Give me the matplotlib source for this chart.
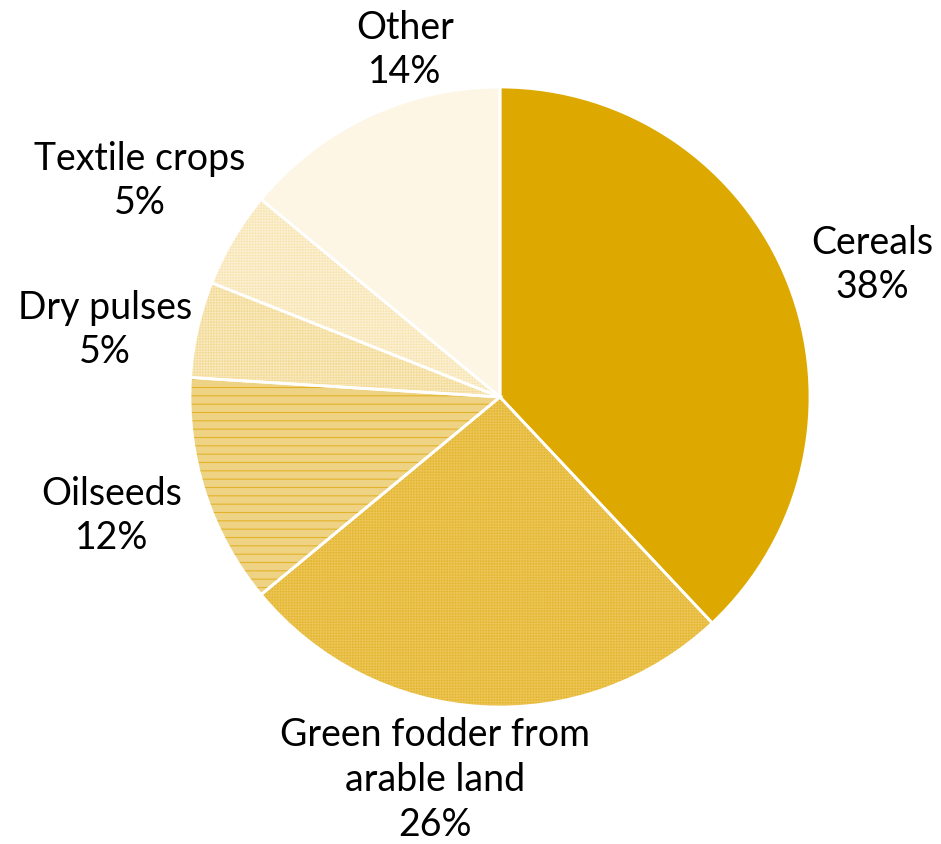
import matplotlib.pyplot as plt
import numpy as np

plt.rcParams['font.family'] = ['Lato', 'DejaVu Sans']

categories = ["Cereals", "Green fodder from\narable land", "Oilseeds",
              "Dry pulses", "Textile crops", "Other"]
shares = [38, 26, 12, 5, 5, 14]

face_colors = ["#DDA900", "#E3B52E", "#EFD384", "#F2D78E", "#F6E3AC", "#FDF6E5"]
hatch_colors = ["#DDA900", "#EBC453", "#E2B22A", "#F8E7B8", "#FBEFCF", "#F8E6B4"]
hatches = [None, "++++++", "--", "++++++", "++++++", None]

# label block centres in pixels (x, y from top)
label_pos = [(872, 265), (435, 780), (112, 516), (105, 330), (140, 181), (405, 50)]

W, H = 941, 844
fig = plt.figure(figsize=(W / 100, H / 100), dpi=100)
ax = fig.add_axes([0, 0, 1, 1])

center = (500, H - 397)
radius = 310
plt.rcParams['hatch.linewidth'] = 0.8

wedges, _ = ax.pie(shares, center=center, radius=radius, startangle=90,
                   counterclock=False, frame=True)
for w, fc, hc, h in zip(wedges, face_colors, hatch_colors, hatches):
    w.set_facecolor(fc)
    w.set_edgecolor(hc)
    w.set_linewidth(0)
    if h:
        w.set_hatch(h)

# white separators drawn on top
ax.pie(shares, center=center, radius=radius, startangle=90,
       counterclock=False, frame=True,
       wedgeprops=dict(fill=False, edgecolor="white", linewidth=2))

ax.set_xlim(0, W)
ax.set_ylim(0, H)
ax.set_aspect("equal")
ax.axis("off")

for name, share, (x, y) in zip(categories, shares, label_pos):
    ax.text(x, H - y, f"{name}\n{share}%", ha="center", va="center",
            fontsize=27, color="black", linespacing=1.3)

fig.savefig("out.png", dpi=100)
